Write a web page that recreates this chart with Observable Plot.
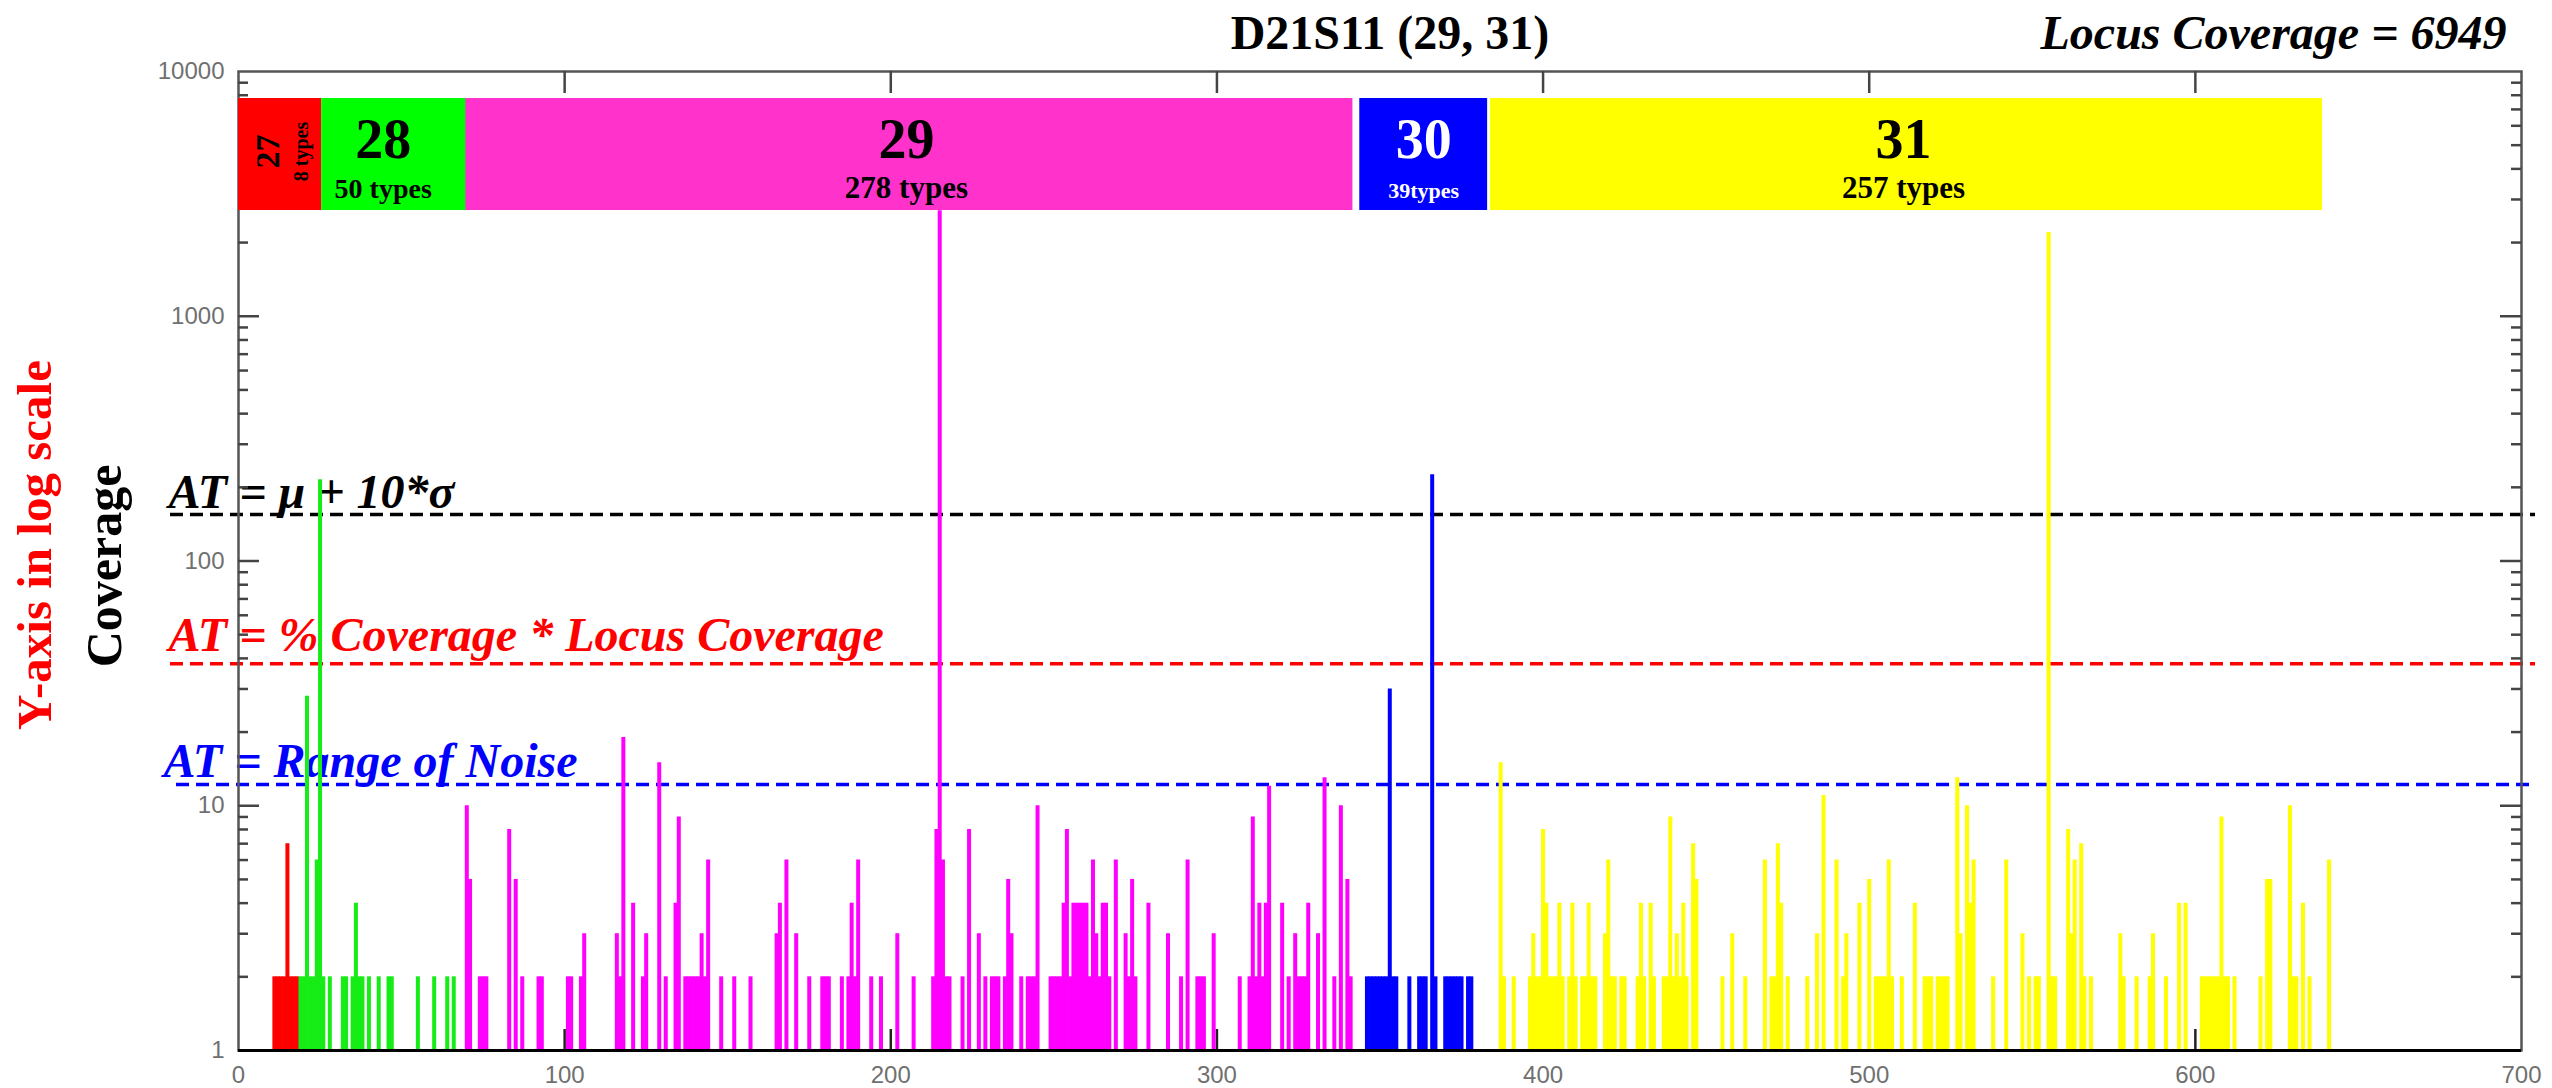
<!DOCTYPE html>
<html>
<head>
<meta charset="utf-8">
<script src="https://cdn.jsdelivr.net/npm/d3@7"></script>
<script src="https://cdn.jsdelivr.net/npm/@observablehq/plot@0.6"></script>
<style>
  html, body { margin: 0; padding: 0; background: #fff; overflow: hidden; }
</style>
</head>
<body>
<div id="chart"></div>
<script>
// ---------------- DATA ----------------
// Allele 27 (red)
const a27Pos = [11, 12, 13, 14, 15, 16, 17, 18];
const a27Cov = [2, 2, 2, 2, 7, 2, 2, 2];

// Allele 28 (green)
const a28Pos = [19, 20, 21, 22, 23, 24, 25, 26, 28, 32, 33, 35, 36, 37, 38, 40, 43, 46, 47, 55, 60, 64, 66];
const a28Cov = [2, 2, 28, 2, 2, 6, 215, 2, 2, 2, 2, 2, 4, 2, 2, 2, 2, 2, 2, 2, 2, 2, 2];

// Allele 29 (magenta)
const a29Pos = [70, 71, 74, 75, 76, 83, 85, 87, 92, 93, 101, 102, 105, 106, 116, 117, 118, 121, 124, 125,
  129, 131, 134, 135, 137, 138, 139, 140, 141, 142, 143, 144, 148, 152, 157, 165, 166, 168, 171, 175,
  179, 180, 181, 185, 187, 188, 189, 190, 194, 197, 202, 207, 213, 214, 215, 216, 217, 218, 222, 224,
  227, 229, 231, 232, 233, 235, 236, 237, 240, 242, 243, 244, 245, 249, 250, 251, 252, 253, 254, 255,
  256, 257, 258, 259, 260, 261, 262, 263, 264, 265, 266, 267, 269, 272, 273, 274, 275, 279, 285, 289,
  291, 294, 295, 296, 299, 307, 310, 311, 312, 313, 314, 315, 316, 320, 322, 324, 325, 326, 327, 328,
  331, 333, 336, 338, 340, 341];
const a29Cov = [10, 5, 2, 2, 2, 8, 5, 2, 2, 2, 2, 2, 2, 3, 3, 2, 19, 4, 2, 3,
  15, 2, 4, 9, 2, 2, 2, 2, 2, 3, 2, 6, 2, 2, 2, 3, 4, 6, 3, 2,
  2, 2, 2, 2, 2, 4, 2, 6, 2, 2, 3, 2, 2, 8, 2700, 6, 2, 2, 2, 8,
  3, 2, 2, 2, 2, 2, 5, 3, 2, 2, 2, 2, 10, 2, 2, 2, 2, 4, 8, 2,
  4, 4, 4, 4, 4, 2, 6, 3, 2, 4, 4, 2, 6, 3, 2, 5, 2, 4, 3, 2,
  6, 2, 2, 2, 3, 2, 2, 9, 2, 4, 2, 4, 12, 4, 2, 3, 2, 2, 2, 4,
  3, 13, 2, 10, 5, 2];

// Allele 30 (blue)
const a30Pos = [346, 347, 348, 349, 350, 351, 352, 353, 354, 355, 359, 362, 363, 364, 366, 367,
  370, 371, 372, 373, 374, 375, 377, 378];
const a30Cov = [2, 2, 2, 2, 2, 2, 2, 30, 2, 2, 2, 2, 2, 2, 225, 2,
  2, 2, 2, 2, 2, 2, 2, 2];

// Allele 31 (yellow)
const a31Pos = [387, 388, 391, 396, 397, 398, 399, 400, 401, 402, 403, 404, 405, 406, 408, 409, 410,
  412, 413, 414, 415, 416, 419, 420, 421, 422, 424, 425, 429, 430, 431, 433, 434, 437, 438, 439, 440,
  441, 442, 443, 444, 446, 447, 455, 458, 462, 468, 470, 471, 472, 473, 475, 481, 484, 486, 490, 492,
  493, 497, 500, 502, 503, 504, 505, 506, 507, 510, 514, 517, 518, 519, 521, 522, 523, 524, 527, 528,
  530, 531, 532, 538, 542, 547, 549, 551, 552, 555, 556, 557, 561, 562, 563, 565, 566, 568, 577, 578,
  582, 586, 587, 591, 595, 597, 602, 603, 604, 605, 606, 607, 608, 609, 610, 612, 620, 622, 623, 629,
  630, 631, 633, 635, 641];
const a31Cov = [15, 2, 2, 2, 3, 2, 2, 8, 4, 2, 2, 2, 4, 2, 2, 4, 2,
  2, 2, 4, 2, 2, 3, 6, 2, 2, 2, 2, 2, 4, 2, 4, 2, 2, 2, 9, 2,
  3, 2, 4, 2, 7, 5, 2, 3, 2, 6, 2, 2, 7, 4, 2, 2, 3, 11, 6, 2,
  3, 4, 5, 2, 2, 2, 2, 6, 2, 2, 4, 2, 2, 2, 2, 2, 2, 2, 13, 3,
  10, 4, 6, 2, 6, 3, 2, 2, 2, 2200, 2, 2, 8, 3, 6, 7, 2, 2, 3, 2,
  2, 2, 3, 2, 4, 4, 2, 2, 2, 2, 2, 2, 9, 2, 2, 2, 2, 5, 5, 10,
  2, 2, 4, 2, 6];

// Allele summary boxes (allele ranges along the x axis)
const alleleNames  = ["27", "28", "29", "30", "31"];
const alleleTypes  = ["8 types", "50 types", "278 types", "39types", "257 types"];
const alleleStart  = [0, 25.5, 69.7, 343.8, 383.9];
const alleleEnd    = [25.5, 70, 341.7, 383, 639];

// Analytical thresholds
const thresholdLabels = ["AT = μ + 10*σ", "AT = % Coverage * Locus Coverage", "AT = Range of Noise"];
const thresholdValues = [155, 38, 12.2];

// Axis ticks
const xTickValues = [0, 100, 200, 300, 400, 500, 600, 700];
const yTickValues = [1, 10, 100, 1000, 10000];

const titleText = "D21S11 (29, 31)";
const locusText = "Locus Coverage = 6949";

// ---------------- STYLE ----------------
const barColor   = {"27": "#ff0000", "28": "#16ec16", "29": "#ff00ff", "30": "#0000ff", "31": "#ffff00"};
const boxColor   = {"27": "#ff0000", "28": "#00ff00", "29": "#ff33cc", "30": "#0000ff", "31": "#ffff00"};
const boxInk     = {"27": "#000", "28": "#000", "29": "#000", "30": "#fff", "31": "#000"};
const typesSize  = {"27": 20, "28": 28, "29": 31, "30": 22, "31": 31};
const labelShiftPx = {"27": 0, "28": -11, "29": -3, "30": 0, "31": -3};
const atColor    = ["#000000", "#ff0000", "#0000ff"];
const SERIF = "Liberation Serif, Times New Roman, serif";
const SANS  = "Liberation Sans, Arial, sans-serif";

// ---------------- BUILD ----------------
const seriesPos = [a27Pos, a28Pos, a29Pos, a30Pos, a31Pos];
const seriesCov = [a27Cov, a28Cov, a29Cov, a30Cov, a31Cov];
const bars = alleleNames.flatMap((a, k) => seriesPos[k].map((p, i) => ({allele: a, pos: p, cov: seriesCov[k][i]})));
const boxes = alleleNames.map((a, i) => ({allele: a, types: alleleTypes[i], start: alleleStart[i], end: alleleEnd[i]}));
const thresholds = thresholdLabels.map((t, i) => ({label: t, value: thresholdValues[i], color: atColor[i]}));

const W = 2552, H = 1088, mL = 238, mR = 31, mT = 71, mB = 38;
const pxPerUnit = (W - mL - mR) / 700;
const pxPerDecade = (H - mT - mB) / 4;
const up = (v, px) => v * Math.pow(10, px / pxPerDecade);   // move px upward on the log axis
const down = (v, px) => v / Math.pow(10, px / pxPerDecade);

const minorY = [];
for (const d of [1, 10, 100, 1000]) for (let m = 2; m <= 9; m++) minorY.push(d * m);
const innerX = xTickValues.slice(1, -1);

const boxTop = down(10000, 27), boxBottom = down(10000, 139);
const normalBoxes = boxes.filter(b => b.allele !== "27");
const rotBox = boxes.filter(b => b.allele === "27");
const boxCenter = d => (d.start + d.end) / 2 + labelShiftPx[d.allele] / pxPerUnit;

const marks = [
  // threshold lines
  ...thresholds.map((t, i) => Plot.ruleY([t], {
    y: "value", stroke: t.color, strokeWidth: 3.5, strokeDasharray: "13,7",
    insetLeft: i === 2 ? -62 : -68, insetRight: -14
  })),
  // threshold labels
  ...thresholds.map((t, i) => Plot.text([t], {
    y: "value", text: "label", frameAnchor: "left", textAnchor: "start", lineAnchor: "bottom",
    dx: i === 2 ? -75 : -70, dy: [-6, -13, -8][i],
    fill: t.color, fontFamily: SERIF, fontWeight: "bold", fontStyle: "italic", fontSize: 48
  })),
  // bottom inward ticks (under the spikes)
  Plot.ruleX(innerX, {x: d => d, y1: 1, y2: up(1, 21), stroke: "#222", strokeWidth: 2.5}),
  // coverage spikes
  Plot.ruleX(bars, {x: "pos", y1: 1, y2: "cov", stroke: d => barColor[d.allele], strokeWidth: 4}),
  // frame
  Plot.frame({stroke: "#555", strokeWidth: 2.5}),
  Plot.ruleY([1], {stroke: "#000", strokeWidth: 3}),
  // inward ticks
  Plot.ruleY(yTickValues.slice(1, -1), {y: d => d, x1: 0, x2: 21 / pxPerUnit, stroke: "#444", strokeWidth: 2.5}),
  Plot.ruleY(minorY, {y: d => d, x1: 0, x2: 10 / pxPerUnit, stroke: "#444", strokeWidth: 2.5}),
  Plot.ruleY(yTickValues.slice(1, -1), {y: d => d, x1: 700 - 21 / pxPerUnit, x2: 700, stroke: "#444", strokeWidth: 2.5}),
  Plot.ruleY(minorY, {y: d => d, x1: 700 - 10 / pxPerUnit, x2: 700, stroke: "#444", strokeWidth: 2.5}),
  Plot.ruleX(innerX, {x: d => d, y1: 10000, y2: down(10000, 22), stroke: "#444", strokeWidth: 2.5}),
  // allele boxes
  Plot.rect(boxes, {x1: "start", x2: "end", y1: boxBottom, y2: boxTop, fill: d => boxColor[d.allele]}),
  Plot.text(normalBoxes, {x: boxCenter, text: "allele", frameAnchor: "top", lineAnchor: "bottom",
    dy: 86, fill: d => boxInk[d.allele], fontFamily: SERIF, fontWeight: "bold", fontSize: 56}),
  Plot.text(normalBoxes, {x: boxCenter, text: "types", frameAnchor: "top", lineAnchor: "bottom",
    dy: 126, fill: d => boxInk[d.allele], fontFamily: SERIF, fontWeight: "bold", fontSize: d => typesSize[d.allele]}),
  Plot.text(rotBox, {x: d => d.start + 0.36 * (d.end - d.start), text: "allele", frameAnchor: "top", lineAnchor: "middle",
    textAnchor: "middle", rotate: -90, dy: 80, fill: "#000", fontFamily: SERIF, fontWeight: "bold", fontSize: 34}),
  Plot.text(rotBox, {x: d => d.start + 0.76 * (d.end - d.start), text: "types", frameAnchor: "top", lineAnchor: "middle",
    textAnchor: "middle", rotate: -90, dy: 80, fill: "#000", fontFamily: SERIF, fontWeight: "bold", fontSize: 20}),
  // axes tick labels
  Plot.axisX({ticks: xTickValues, tickSize: 0, tickPadding: 15, tickFormat: d => String(d),
    fontSize: 24, fontFamily: SANS, fill: "#707070", label: null}),
  Plot.axisY({ticks: yTickValues, tickSize: 0, tickPadding: 14, tickFormat: d => String(d),
    fontSize: 24, fontFamily: SANS, fill: "#707070", label: null}),
  // axis titles
  Plot.text(["Coverage"], {frameAnchor: "left", rotate: -90, dx: -134, dy: 5, lineAnchor: "middle", textAnchor: "middle",
    fill: "#000", fontFamily: SERIF, fontWeight: "bold", fontSize: 50}),
  Plot.text(["Y-axis in log scale"], {frameAnchor: "left", rotate: -90, dx: -203, dy: -16, lineAnchor: "middle", textAnchor: "middle",
    fill: "#ff0000", fontFamily: SERIF, fontWeight: "bold", fontSize: 49}),
  // titles
  Plot.text([titleText], {frameAnchor: "top", dx: 10, dy: -23, lineAnchor: "bottom",
    fill: "#000", fontFamily: SERIF, fontWeight: "bold", fontSize: 48}),
  Plot.text([locusText], {frameAnchor: "top-right", textAnchor: "end", dx: -15, dy: -23, lineAnchor: "bottom",
    fill: "#000", fontFamily: SERIF, fontWeight: "bold", fontStyle: "italic", fontSize: 48})
];

const chart = Plot.plot({
  width: W, height: H,
  marginLeft: mL, marginRight: mR, marginTop: mT, marginBottom: mB,
  x: {domain: [0, 700]},
  y: {type: "log", domain: [1, 10000]},
  style: {background: "#fff", overflow: "visible", fontFamily: SANS},
  marks
});
document.getElementById("chart").appendChild(chart);
</script>
</body>
</html>
